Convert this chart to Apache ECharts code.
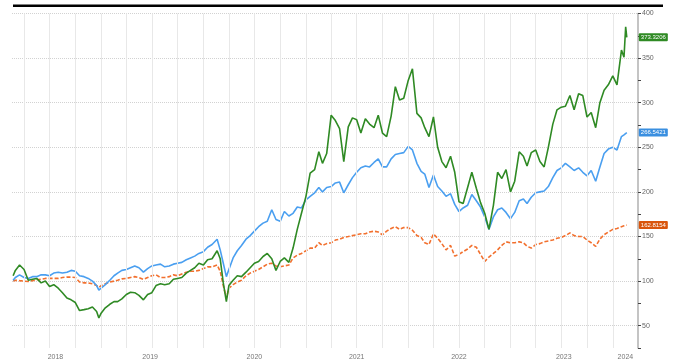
<!DOCTYPE html>
<html>
<head>
<meta charset="utf-8">
<script src="https://cdn.jsdelivr.net/npm/echarts@6/dist/echarts.min.js"></script>
<style>
html,body{margin:0;padding:0;background:#fff;}
#chart{width:678px;height:361px;}
</style>
</head>
<body>
<div id="chart"></div>
<script>
// ---- DATA ----
const dates = [
  // 2018
  '2018-02-21','2018-03-01','2018-03-16','2018-04-01','2018-04-16','2018-05-01','2018-05-16','2018-06-01','2018-06-16','2018-07-01','2018-07-16','2018-08-01','2018-08-16','2018-09-01','2018-09-16','2018-10-01','2018-10-16','2018-11-01','2018-11-16','2018-12-01','2018-12-16','2018-12-24',
  // 2019
  '2019-01-01','2019-01-16','2019-02-01','2019-02-16','2019-03-01','2019-03-16','2019-04-01','2019-04-16','2019-05-01','2019-05-16','2019-06-01','2019-06-16','2019-07-01','2019-07-16','2019-08-01','2019-08-16','2019-09-01','2019-09-16','2019-10-01','2019-10-16','2019-11-01','2019-11-16','2019-12-01','2019-12-16',
  // 2020
  '2020-01-01','2020-01-16','2020-02-01','2020-02-19','2020-03-01','2020-03-12','2020-03-23','2020-04-01','2020-04-16','2020-05-01','2020-05-16','2020-06-01','2020-06-16','2020-07-01','2020-07-16','2020-08-01','2020-08-16','2020-09-01','2020-09-16','2020-10-01','2020-10-16','2020-11-01','2020-11-16','2020-12-01','2020-12-16',
  // 2021
  '2021-01-01','2021-01-16','2021-02-01','2021-02-16','2021-03-01','2021-03-16','2021-04-01','2021-04-16','2021-05-01','2021-05-16','2021-06-01','2021-06-16','2021-07-01','2021-07-16','2021-08-01','2021-08-16','2021-09-01','2021-09-16','2021-10-01','2021-10-16','2021-11-01','2021-11-16','2021-12-01','2021-12-16',
  // 2022
  '2022-01-01','2022-01-16','2022-02-01','2022-02-16','2022-03-01','2022-03-16','2022-04-01','2022-04-16','2022-05-01','2022-05-16','2022-06-01','2022-06-16','2022-07-01','2022-07-16','2022-08-01','2022-08-16','2022-09-01','2022-09-16','2022-10-01','2022-10-16','2022-11-01','2022-11-16','2022-12-01','2022-12-16',
  // 2023
  '2023-01-01','2023-01-16','2023-02-01','2023-02-16','2023-03-01','2023-03-16','2023-04-01','2023-04-16','2023-05-01','2023-05-16','2023-06-01','2023-06-16','2023-07-01','2023-07-16','2023-08-01','2023-08-16','2023-09-01','2023-09-16','2023-10-01','2023-10-16','2023-11-01','2023-11-16','2023-12-01','2023-12-16',
  // 2024
  '2024-01-01','2024-01-16','2024-02-01','2024-02-10','2024-02-16','2024-02-20'
];

const greenValues = [
  106,112,118,113,101,102,103,98,100,94,96,92,87,81,79,76,67,68,69,71,66,58.6,
  64,70,74,77,77,80,85,87.5,87,84,79,85,87,95,97,96,97,102,103,104,109,112,115,120,
  118,124,125,134,125,98,77,95,101,106,105,110,115,120,122,127.6,131,125,112,122,126,121,137,158,176,
  195,221,225,245,232,243,286,280,271,234,273,283,281,266,282,276,272,286,266,262,285,318,303,305,
  325,338,288,283,272,262,284,250,234,227,240,222,189,187,205,222,204,188,176,158,185,222,215,225,
  200,212,245,240,229,244,247,234,228,250,276,292,295,296,308,292,310,308,284,289,272,300,314,320,
  330,320,359,351,385,373.3206
];

const blueValues = [
  101,104,107,104,103,105,105,107,107,106,109,110,109,110,112,111,106,105,103,100,95,90,
  92,96,101,106,109,112,113,115,117,115,110,114,117,118,119,116,117,119,120,121,124,126,128,131,
  133,138,141,147,135,120,105,113,126,134,140,147,151,156,161,165,167,180,169,167,178,173,176,183,182,
  191,195,199,205,200,205,206,210,211,199,208,216,222,227,229,228,233,237,228,228,237,242,243,244,
  251,247,232,223,220,205,219,206,201,195,198,186,178,182,185,197,190,183,172,158,172,180,182,177,
  170,177,190,192,187,194,199,200,201,206,216,224,227,232,228,224,227,222,218,224,212,228,243,248,
  250,247,262,264,266,266.5421
];

const orangeValues = [
  100,101,100.5,100,99.6,100.5,101.5,102,103,103,103,103,104,104.5,104.5,104,99,98,98,97,95,93,
  95,97,99,100,101,102.5,103,104,105,104,102,104,106,107,104,104,105,107,106,108,110,111,111,112,
  114,116,116,118,111,95,81,92,96,99,101,106,109,111,113,116,119,120,117,116,117,118,126,129,131,
  134,137,137,143,140,142,143,146,147,149,150,151,152,153,153,155,156,155,152,156,159,161,158,160,
  160,157,151,149,143,141,153,148,142,135,140,128,130,133,136,140,138,130,122,127,131,135,140,144,
  143,143,144,143,139,137,141,142,144,145,146,148,149,151,154,151,150,150,146,143,139,147,152,155,
  158,159,161,162,162,162.8154
];

const quarterDates = [
  '2018-04-01','2018-07-01','2018-10-01',
  '2019-01-01','2019-04-01','2019-07-01','2019-10-01',
  '2020-01-01','2020-04-01','2020-07-01','2020-10-01',
  '2021-01-01','2021-04-01','2021-07-01','2021-10-01',
  '2022-01-01','2022-04-01','2022-07-01','2022-10-01',
  '2023-01-01','2023-04-01','2023-07-01','2023-10-01',
  '2024-01-01'
];
const yearLabelDates = ['2018-07-22','2019-06-25','2020-07-01','2021-07-01','2022-07-01','2023-07-10','2024-02-15'];
const yTickLabels = [50,100,150,200,250,300,350,400];

// ---- CHART ----
const ts = s => new Date(s + 'T00:00:00Z').getTime();
const pairs = vals => dates.map((d, i) => [ts(d), vals[i]]);
const FONT = 'Liberation Sans, Arial, sans-serif';

function tag(color) {
  return {
    show: true,
    distance: 12,
    formatter: p => p.value[1].toFixed(4),
    backgroundColor: color,
    color: '#fff',
    fontSize: 6,
    fontFamily: FONT,
    padding: [1, 2, 1, 2],
    borderRadius: 1
  };
}

const chart = echarts.init(document.getElementById('chart'), null, {renderer: 'canvas'});
chart.setOption({
  animation: false,
  backgroundColor: '#fff',
  grid: {left: 12, right: 40, top: 13.5, bottom: 13, containLabel: false},
  graphic: [{
    type: 'rect', shape: {x: 13, y: 4.5, width: 650, height: 2.5},
    style: {fill: '#000'}, silent: true
  }],
  xAxis: {
    type: 'value',
    min: ts('2018-02-17'),
    max: ts('2024-03-31'),
    axisLine: {show: false},
    axisTick: {show: false},
    splitLine: {show: false},
    axisLabel: {
      customValues: yearLabelDates.map(ts),
      formatter: v => String(new Date(v).getUTCFullYear()),
      fontSize: 7, color: '#777', fontFamily: FONT, margin: 6,
      showMinLabel: true, showMaxLabel: true
    }
  },
  yAxis: {
    type: 'value',
    position: 'right',
    min: 25, max: 400, interval: 25,
    axisLine: {show: true, lineStyle: {color: '#b0b0b0', width: 1.5}},
    axisTick: {show: true, length: 3, lineStyle: {color: '#444'}},
    axisLabel: {
      formatter: v => (yTickLabels.indexOf(v) >= 0 ? String(v) : ''),
      fontSize: 7, color: '#666', fontFamily: FONT, margin: 4
    },
    splitLine: {show: true, lineStyle: {color: ['rgba(0,0,0,0)', '#d2d2d2'], type: 'dotted', width: 1}}
  },
  series: [
    {
      type: 'line', data: [], z: 1, silent: true,
      markLine: {
        silent: true, symbol: ['none', 'none'], label: {show: false},
        lineStyle: {color: '#e8e8e8', type: 'solid', width: 1},
        data: quarterDates.map(d => ({xAxis: ts(d)}))
      }
    },
    {
      name: 'Orange', type: 'line', data: pairs(orangeValues), showSymbol: false, z: 3,
      lineStyle: {color: '#f2702e', width: 1.6, type: [4, 2]},
      itemStyle: {color: '#f2702e'},
      endLabel: tag('#d9550c')
    },
    {
      name: 'Blue', type: 'line', data: pairs(blueValues), showSymbol: false, z: 4,
      lineStyle: {color: '#4a9ff0', width: 1.6},
      itemStyle: {color: '#4a9ff0'},
      endLabel: tag('#3a8fe0')
    },
    {
      name: 'Green', type: 'line', data: pairs(greenValues), showSymbol: false, z: 5,
      lineStyle: {color: '#2f8a24', width: 1.6},
      itemStyle: {color: '#2f8a24'},
      endLabel: tag('#2f8a24')
    }
  ]
});
</script>
</body>
</html>
